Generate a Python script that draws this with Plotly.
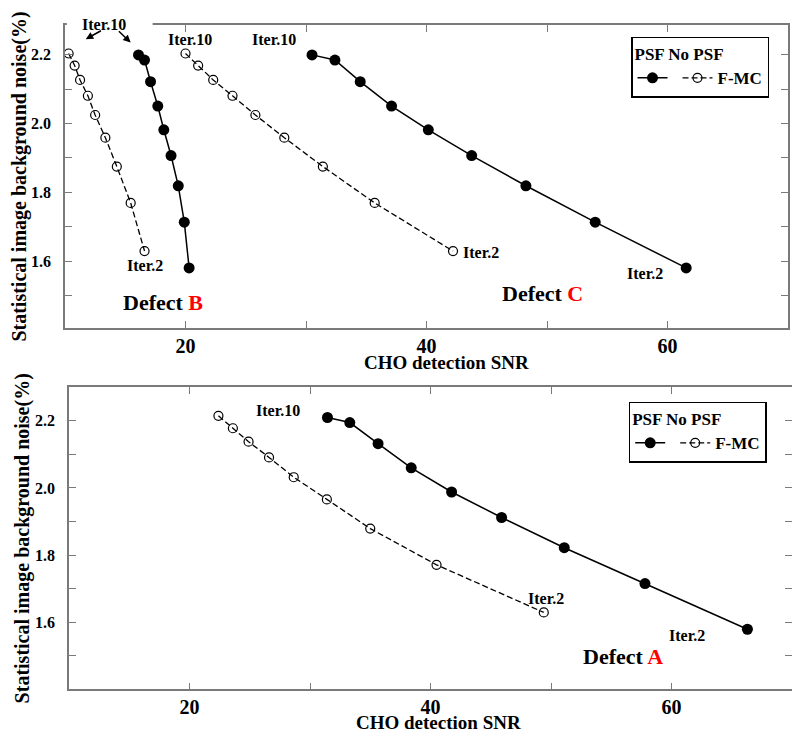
import plotly.graph_objects as go

# ---------------- data ----------------
iterations = [10, 9, 8, 7, 6, 5, 4, 3, 2]

# Defect B (top panel)
B_psf_snr = [16.1, 16.6, 17.1, 17.7, 18.2, 18.8, 19.4, 19.9, 20.3]
B_psf_noise = [2.200, 2.185, 2.122, 2.051, 1.982, 1.907, 1.819, 1.713, 1.580]
B_nopsf_snr = [10.3, 10.8, 11.25, 11.9, 12.5, 13.35, 14.3, 15.45, 16.6]
B_nopsf_noise = [2.204, 2.169, 2.127, 2.081, 2.025, 1.959, 1.875, 1.769, 1.629]

# Defect C (top panel)
C_psf_snr = [30.5, 32.4, 34.5, 37.1, 40.15, 43.75, 48.25, 54.0, 61.55]
C_psf_noise = [2.200, 2.185, 2.122, 2.051, 1.982, 1.907, 1.819, 1.713, 1.580]
C_nopsf_snr = [20.0, 21.05, 22.3, 23.9, 25.8, 28.2, 31.4, 35.7, 42.2]
C_nopsf_noise = [2.204, 2.169, 2.127, 2.081, 2.025, 1.959, 1.875, 1.769, 1.629]

# Defect A (bottom panel)
A_psf_snr = [31.45, 33.3, 35.65, 38.4, 41.75, 45.9, 51.1, 57.8, 66.3]
A_psf_noise = [2.210, 2.195, 2.132, 2.060, 1.988, 1.912, 1.822, 1.715, 1.579]
A_nopsf_snr = [22.4, 23.6, 24.9, 26.6, 28.65, 31.4, 35.0, 40.5, 49.4]
A_nopsf_noise = [2.215, 2.178, 2.138, 2.091, 2.032, 1.966, 1.879, 1.771, 1.629]

x_tickvals = [20, 30, 40, 50, 60]
x_ticktext = ["20", "", "40", "", "60"]
y_tickvals = [1.5, 1.6, 1.7, 1.8, 1.9, 2.0, 2.1, 2.2]
y_ticktext = ["", "1.6", "", "1.8", "", "2.0", "", "2.2"]

# ---------------- layout helpers (page offset of the plot div) ----------------
W, H, OX, OY = 800, 737, 8, 8
def px(v):
    return (v - OX) / W
def py(v):
    return 1 - (v - OY) / H

# ---------------- styling ----------------
FONT = "Liberation Serif"
psf_style = dict(mode="lines+markers",
                 line=dict(color="black", width=1.5),
                 marker=dict(symbol="circle", size=11, color="black"))
nopsf_style = dict(mode="lines+markers",
                   line=dict(color="black", width=1.3, dash="6px,3px"),
                   marker=dict(symbol="circle-open", size=9, color="black",
                               line=dict(width=1.2)))

fig = go.Figure()

def add(x, y, style, xa, ya, name, show, legend):
    fig.add_trace(go.Scatter(x=x, y=y, xaxis=xa, yaxis=ya, name=name,
                             showlegend=show, legend=legend,
                             customdata=iterations,
                             hovertemplate="Iter.%{customdata}<br>SNR %{x}<br>noise %{y}%<extra></extra>",
                             **style))

# top panel
add(B_psf_snr, B_psf_noise, psf_style, "x", "y", "", True, "legend")
add(B_nopsf_snr, B_nopsf_noise, nopsf_style, "x", "y", "F-MC", True, "legend")
add(C_psf_snr, C_psf_noise, psf_style, "x", "y", "PSF", False, "legend")
add(C_nopsf_snr, C_nopsf_noise, nopsf_style, "x", "y", "No PSF", False, "legend")
# bottom panel
add(A_psf_snr, A_psf_noise, psf_style, "x2", "y2", "", True, "legend2")
add(A_nopsf_snr, A_nopsf_noise, nopsf_style, "x2", "y2", "F-MC", True, "legend2")

axis_common = dict(showline=True, linecolor="#7a7a7a", linewidth=1.5,
                   mirror="ticks", ticks="inside", ticklen=7,
                   tickcolor="#7a7a7a", tickwidth=1.2,
                   showgrid=False, zeroline=False, automargin=False)
xfont = dict(family=FONT, size=20, color="black", weight="bold")
yfont = dict(family=FONT, size=16, color="black", weight="bold")
ytitle = dict(text="Statistical image background noise(%)", standoff=0,
              font=dict(family=FONT, size=20, color="black", weight="bold"))
lfont = dict(family=FONT, size=17, color="black", weight="bold")

fig.update_layout(
    width=W, height=H,
    margin=dict(l=0, r=0, t=0, b=0, autoexpand=False),
    paper_bgcolor="white", plot_bgcolor="white",
    font=dict(family=FONT, color="black"),
    xaxis=dict(domain=[px(65), px(788)], range=[10, 70], anchor="y",
               tickvals=x_tickvals, ticktext=x_ticktext, tickfont=xfont,
               ticklabelstandoff=-1, **axis_common),
    yaxis=dict(domain=[py(328), py(25)], range=[1.405, 2.287], anchor="x",
               tickvals=y_tickvals, ticktext=y_ticktext, tickfont=yfont,
               ticklabelstandoff=9, title=ytitle, **axis_common),
    xaxis2=dict(domain=[px(69), px(792)], range=[10, 70], anchor="y2",
                tickvals=x_tickvals, ticktext=x_ticktext, tickfont=xfont,
                ticklabelstandoff=-1, **axis_common),
    yaxis2=dict(domain=[py(689.3), py(387.3)], range=[1.4, 2.3], anchor="x2",
                tickvals=y_tickvals, ticktext=y_ticktext, tickfont=yfont,
                ticklabelstandoff=9, title=ytitle, **axis_common),
    legend=dict(x=px(631), y=py(36.7), xanchor="left", yanchor="top",
                orientation="h", bgcolor="white", bordercolor="black", borderwidth=1.5,
                font=lfont, title=dict(text="PSF No PSF", side="top", font=lfont)),
    legend2=dict(x=px(628.7), y=py(401.7), xanchor="left", yanchor="top",
                 orientation="h", bgcolor="white", bordercolor="black", borderwidth=1.5,
                 font=lfont, title=dict(text="PSF No PSF", side="top", font=lfont)),
)

# gap in top border behind the "Iter.10" label
fig.add_shape(type="rect", xref="x", yref="paper", x0=10.15, x1=17.27,
              y0=py(29), y1=py(21), fillcolor="white", line=dict(width=0),
              layer="above")

afont = dict(family=FONT, size=16, color="black", weight="bold")
dfont = dict(family=FONT, size=22, color="black", weight="bold")

def note(text, x, y, xref, yref, font=afont, **kw):
    fig.add_annotation(text=text, x=x, y=y, xref=xref, yref=yref,
                       showarrow=False, font=font, xanchor="center",
                       yanchor="middle", **kw)

# top panel labels
note("Iter.10", 13.21, py(24), "x", "paper")
for tx, ty, ax, ay in [(11.72, 2.2457, 16.7, -9.3), (15.45, 2.236, -13.3, -12.7)]:
    fig.add_annotation(text="", x=tx, y=ty, xref="x", yref="y", showarrow=True,
                       ax=ax, ay=ay, arrowhead=2, arrowsize=1, arrowwidth=1.5,
                       arrowcolor="black")
note("Iter.10", 20.41, 2.245, "x", "y")
note("Iter.10", 27.37, 2.245, "x", "y")
note("Iter.2", 16.6, 1.588, "x", "y")
note("Iter.2", 44.51, 1.625, "x", "y")
note("Iter.2", 58.1, 1.564, "x", "y")
note("Defect <span style='color:red'>B</span>", 18.12, 1.48, "x", "y", font=dfont)
note("Defect <span style='color:red'>C</span>", 49.65, 1.504, "x", "y", font=dfont)

# bottom panel labels
note("Iter.10", 27.38, 2.23, "x2", "y2")
note("Iter.2", 49.57, 1.671, "x2", "y2")
note("Iter.2", 61.32, 1.559, "x2", "y2")
note("Defect <span style='color:red'>A</span>", 55.94, 1.498, "x2", "y2", font=dfont)

# x axis titles
tfont = dict(family=FONT, size=19, color="black", weight="bold")
note("CHO detection SNR", px(446.5), py(363), "paper", "paper", font=tfont)
note("CHO detection SNR", px(438.5), py(722.5), "paper", "paper", font=tfont)

fig.write_html("out.html")
